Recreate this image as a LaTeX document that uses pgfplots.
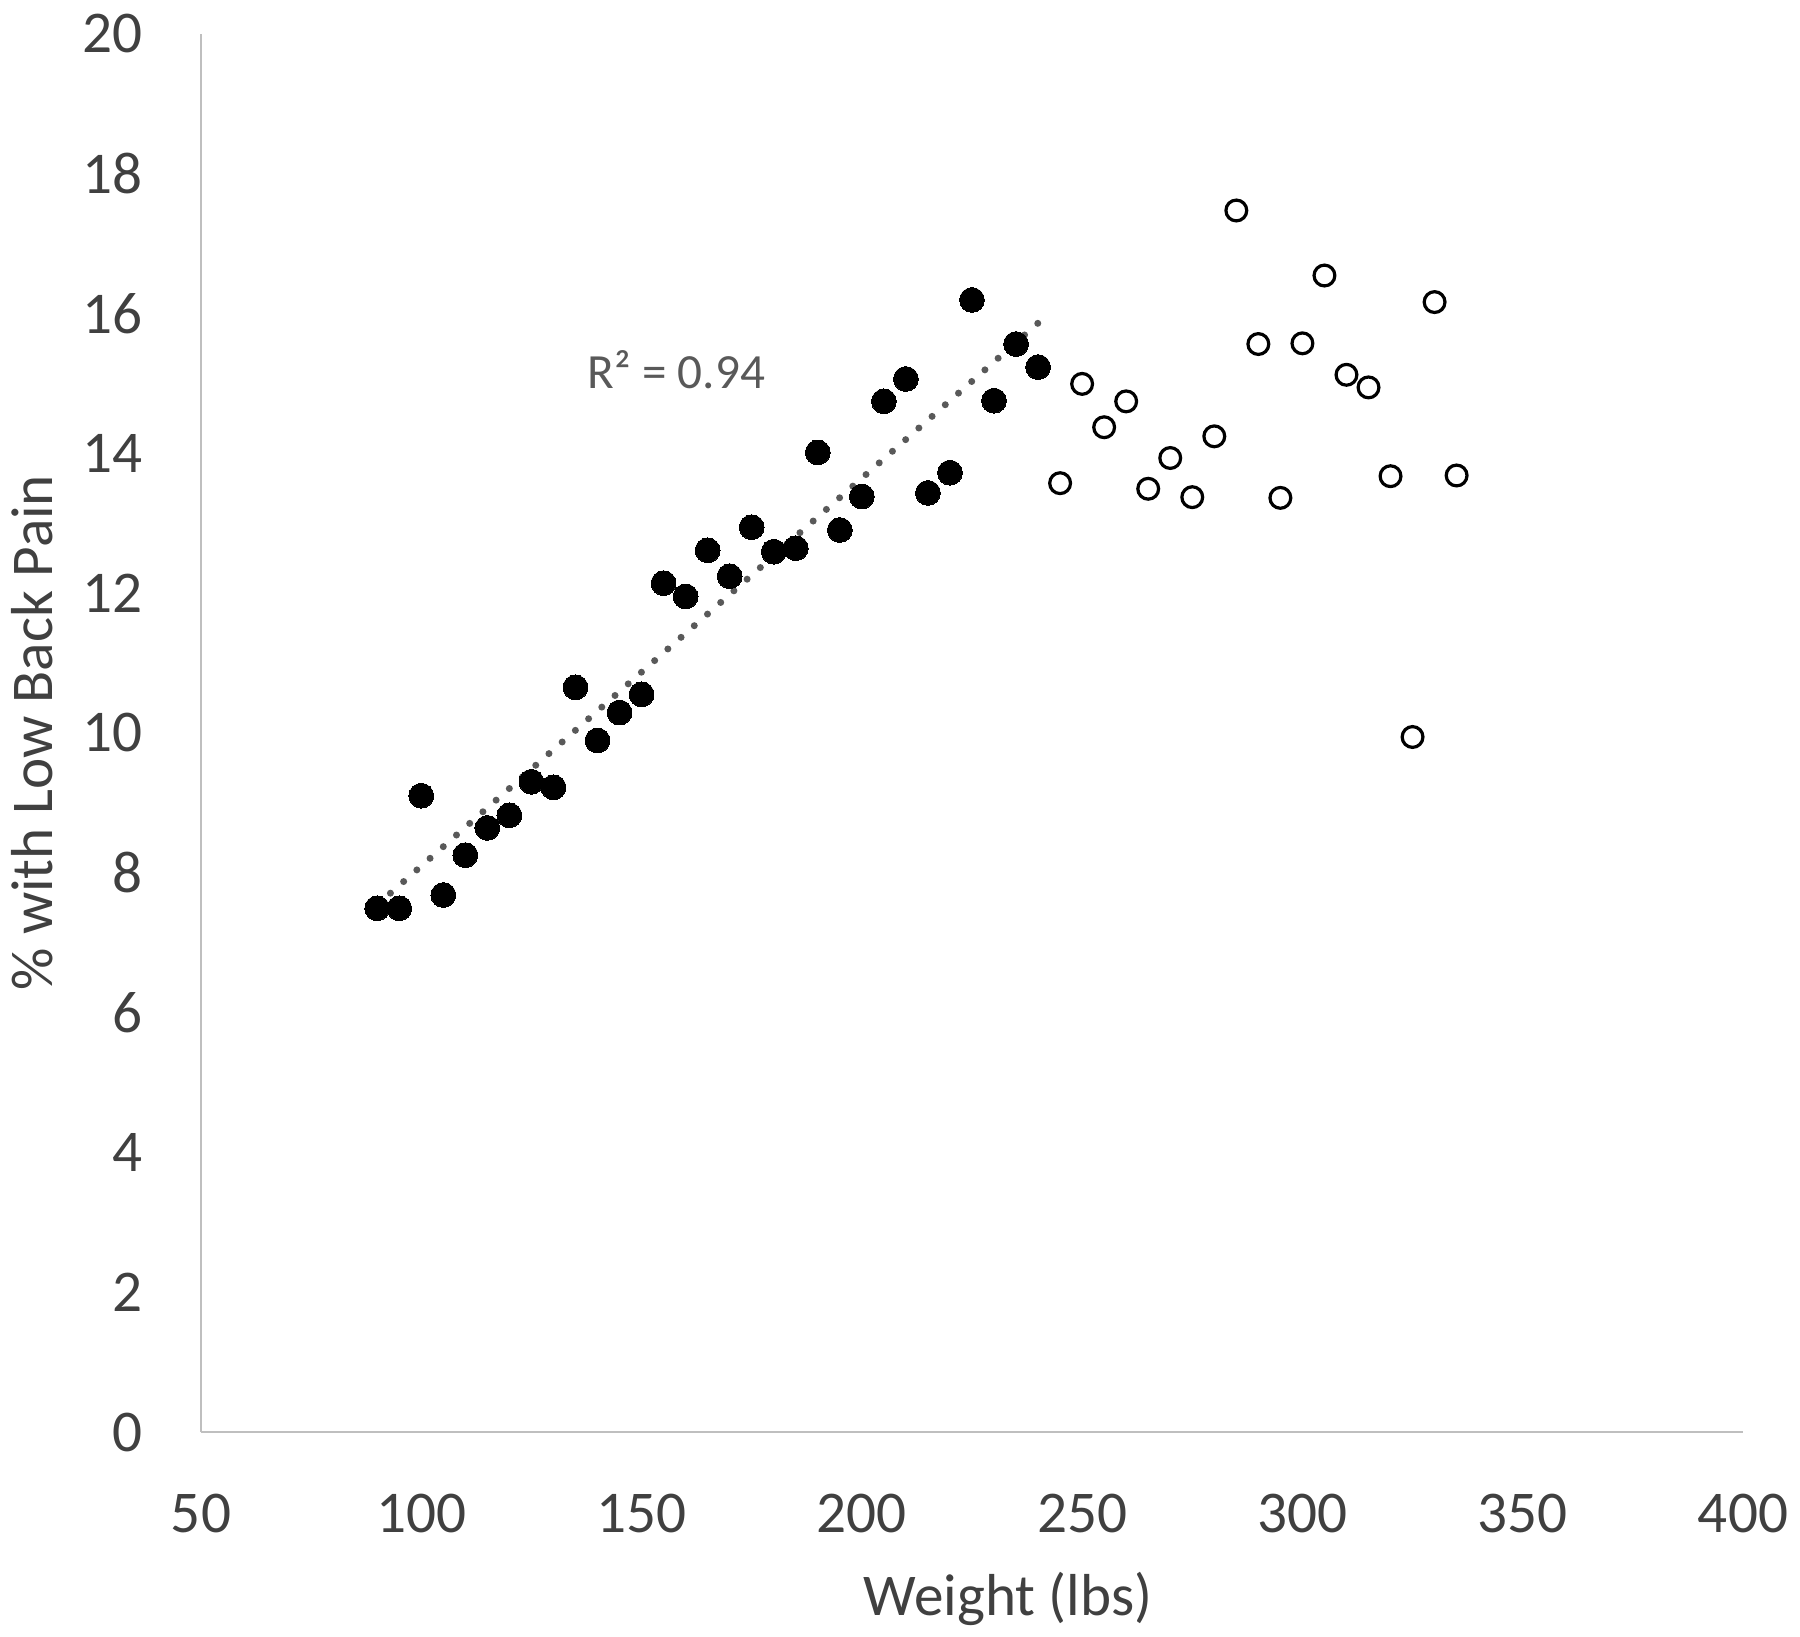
\documentclass[border=0pt]{standalone}
\usepackage{fontspec}
\setmainfont{Carlito}
\usepackage{pgfplots}
\pgfplotsset{compat=1.18}
\definecolor{txt}{HTML}{404040}
\definecolor{axl}{HTML}{BFBFBF}
\definecolor{trend}{HTML}{595959}
\begin{document}
\fontsize{14.8bp}{17bp}\selectfont
\begin{tikzpicture}
\begin{axis}[
  at={(0,0)}, anchor=south west,
  scale only axis, width=385.5bp, height=349.6bp,
  xmin=50, xmax=400, ymin=0, ymax=20,
  xtick={50,100,...,400}, ytick={0,2,...,20},
  axis lines=left,
  axis line style={-, draw=axl, line width=0.7bp},
  major tick length=0pt, tick style={draw=none},
  clip=false,
  /pgf/number format/assume math mode=true,
  tick label style={font=\fontsize{14.8bp}{17bp}\selectfont, text=txt},
  xticklabel style={anchor=north, inner sep=0pt, yshift=-15.25bp},
  yticklabel style={anchor=east, inner sep=0pt, xshift=-14.5bp},
  label style={font=\fontsize{14.8bp}{17bp}\selectfont, text=txt, inner sep=0pt},
  xlabel={Weight (lbs)},
  xlabel style={at={(axis description cs:0.5233,-0.1309)}, anchor=base},
  ylabel={\% with Low Back Pain},
  ylabel style={at={(axis description cs:-0.096,0.5)}, anchor=base},
]
\addplot[only marks, mark=*, mark size=3.1bp, mark options={fill=black, draw=black, line width=0pt}] coordinates {
(90,7.49) (95,7.49) (100,9.10) (105,7.68) (110,8.25) (115,8.64) (120,8.82)
(125,9.30) (130,9.22) (135,10.65) (140,9.89) (145,10.29) (150,10.55)
(155,12.14) (160,11.95) (165,12.61) (170,12.24) (175,12.94) (180,12.59)
(185,12.64) (190,14.01) (195,12.90) (200,13.38) (205,14.74) (210,15.06)
(215,13.43) (220,13.72) (225,16.19) (230,14.75) (235,15.56) (240,15.23)
};
\addplot[only marks, mark=*, mark size=2.6bp, mark options={fill=white, draw=black, line width=0.8bp}] coordinates {
(245,13.57) (250,14.99) (255,14.37) (260,14.74) (265,13.49) (270,13.93)
(275,13.37) (280,14.24) (285,17.47) (290,15.56) (295,13.36) (300,15.57)
(305,16.54) (310,15.12) (315,14.94) (320,13.67) (325,9.94) (330,16.16)
(335,13.68)
};
\addplot[trend, line width=1.75bp, line cap=round, dash pattern=on 0bp off 4.4bp] coordinates {
(90,7.54) (240,15.86)
};
\node[anchor=base west, inner sep=0pt, text=trend, font=\fontsize{12.3bp}{14bp}\selectfont] at (axis cs:137.6,14.93) {R² = 0.94};
\end{axis}
\pgfresetboundingbox
\path[use as bounding box] (-50.25bp,-51.25bp) rectangle (399.75bp,358bp);
\end{tikzpicture}
\end{document}
